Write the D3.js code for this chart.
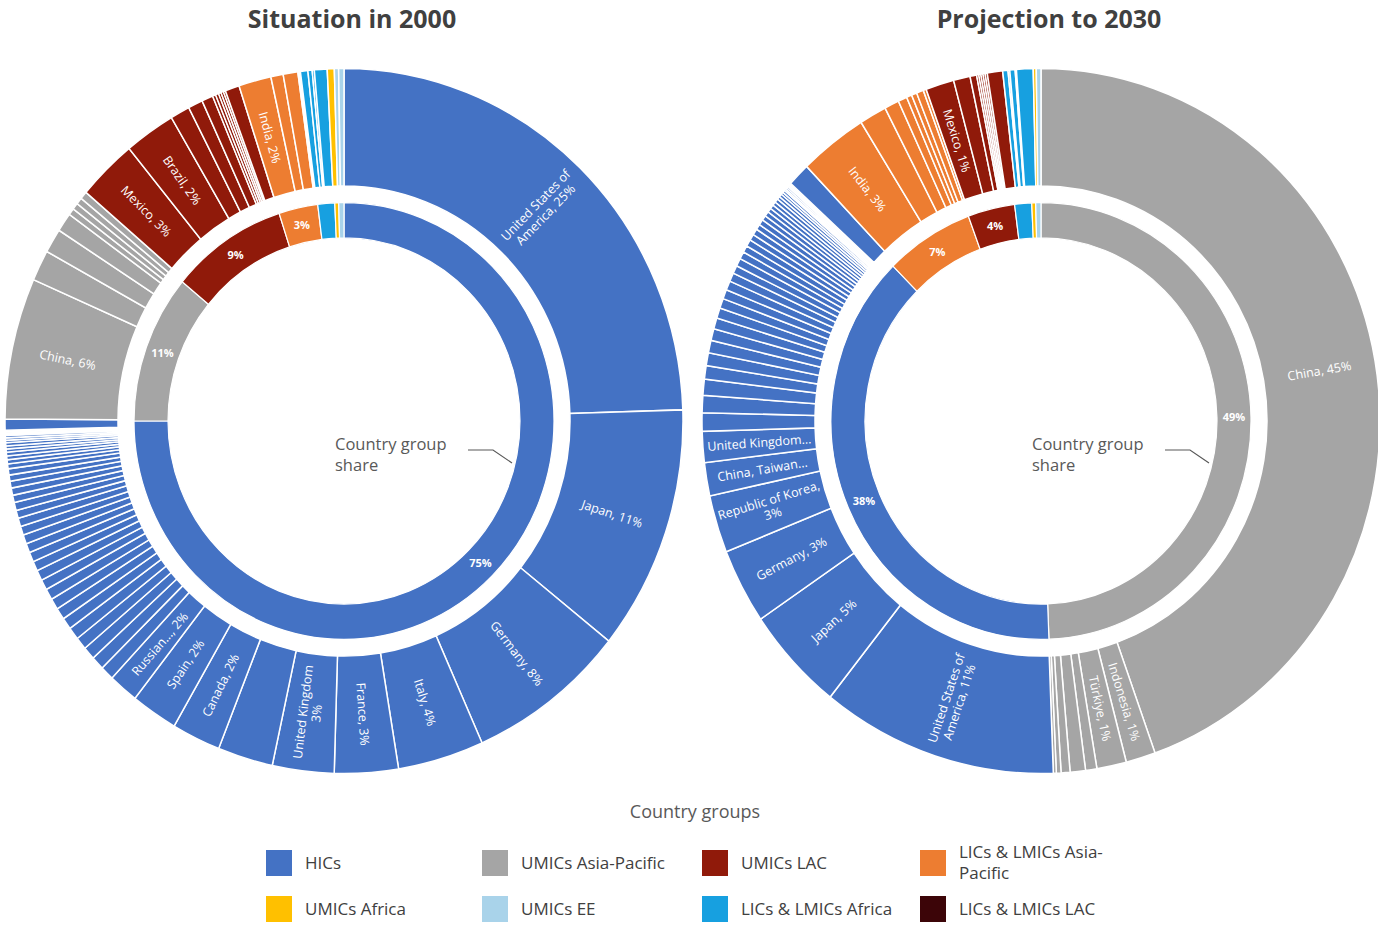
<!DOCTYPE html>
<html><head><meta charset="utf-8">
<script src="https://cdn.jsdelivr.net/npm/d3@7"></script>
<style>
body{margin:0;background:#fff;}
svg text{font-family:"Liberation Sans Narrow","Open Sans",sans-serif;}
</style></head><body>
<svg id="chart" width="1378" height="927"></svg>
<script>
// ---- Country groups (legend) ----
const groupNames = ["HICs","UMICs Asia-Pacific","UMICs LAC","LICs & LMICs Asia-Pacific","UMICs Africa","UMICs EE","LICs & LMICs Africa","LICs & LMICs LAC"];
const groupColors = ["#4472c4","#a5a5a5","#901a0a","#ed7d31","#ffc000","#a9d3ea","#17a0e0","#3c0508"];
const legendLabels = ["HICs","UMICs Asia-Pacific","UMICs LAC","LICs & LMICs Asia-\nPacific","UMICs Africa","UMICs EE","LICs & LMICs Africa","LICs & LMICs LAC"];

// ---- Situation in 2000 ----
const groupOrder2000 = ["HICs","UMICs Asia-Pacific","UMICs LAC","LICs & LMICs Asia-Pacific","LICs & LMICs Africa","UMICs Africa","UMICs EE"];
const groupShare2000 = [75, 11, 9, 3, 1.3, 0.3, 0.4];
const groupShareLabels2000 = ["75%","11%","9%","3%","","",""];
const hics2000 = [24.2, 11.1, 7.5, 4.05, 3.0, 2.9, 2.6, 2.3, 2.2, 1.4,
  0.64,0.61,0.58,0.56,0.56,0.53,0.53,0.5,0.5,0.47,0.47,0.44,0.44,0.42,0.42,0.39,0.39,0.36,0.36,0.33,0.33,0.31,0.28,0.28,
  0.22,0.19,0.17,0.17,0.14,0.14,0.14,0.11,0.11,0.11,0.08,0.06,0.06,0.03,0.5];
const hics2000Labels = ["United States of\nAmerica, 25%","Japan, 11%","Germany, 8%","Italy, 4%","France, 3%","United Kingdom\n3%","","Canada, 2%","Spain, 2%","Russian..., 2%"];
const umicsAP2000 = [6.4, 1.4, 1.1, 0.86, 0.3, 0.3, 0.3, 0.35];
const umicsAP2000Labels = ["China, 6%"];
const umicsLAC2000 = [2.8, 2.4, 0.92, 0.69, 0.53, 0.15, 0.15, 0.12, 0.12, 0.1, 0.67];
const umicsLAC2000Labels = ["Mexico, 3%","Brazil, 2%"];
const licsAP2000 = [1.53, 0.58, 0.69, 0.06, 0.06];
const licsAP2000Labels = ["India, 2%"];
const licsAfrica2000 = [0.35, 0.2, 0.1, 0.6];
const umicsAfrica2000 = [0.33];
const umicsEE2000 = [0.2, 0.25];

// ---- Projection to 2030 ----
const groupOrder2030 = ["UMICs Asia-Pacific","HICs","LICs & LMICs Asia-Pacific","UMICs LAC","LICs & LMICs Africa","UMICs Africa","UMICs EE"];
const groupShare2030 = [49.2, 38, 6.8, 3.6, 1.3, 0.3, 0.4];
const groupShareLabels2030 = ["49%","38%","7%","4%","","",""];
const umicsAP2030 = [43.9, 1.39, 1.39, 0.53, 0.72, 0.42, 0.22, 0.14];
const umicsAP2030Labels = ["China, 45%","Indonesia, 1%","Türkiye, 1%"];
const hics2030 = [11.1, 4.75, 3.4, 2.6, 1.5, 1.4,
  0.83,0.78,0.72,0.61,0.58,0.56,0.53,0.5,0.47,0.44,0.42,0.42,0.39,0.36,0.36,0.33,0.31,0.31,0.28,0.28,
  0.25,0.25,0.22,0.22,0.19,0.19,0.17,0.17,0.14,0.14,0.11,0.11,0.08,0.08,0.08,0.06,0.06,0.06,1.06];
const hics2030Labels = ["United States of\nAmerica, 11%","Japan, 5%","Germany, 3%","Republic of Korea,\n3%","China, Taiwan...","United Kingdom..."];
const licsAP2030 = [3.2, 1.28, 0.69, 0.42, 0.25, 0.25, 0.33, 0.14];
const licsAP2030Labels = ["India, 3%"];
const umicsLAC2030 = [1.33, 0.78, 0.31, 0.1, 0.1, 0.1, 0.1, 0.1, 0.72];
const umicsLAC2030Labels = ["Mexico, 1%"];
const licsAfrica2030 = [0.25, 0.08, 0.25, 0.06, 0.78];
const umicsAfrica2030 = [0.14];
const umicsEE2030 = [0.22];

const countries2000 = {
  "HICs": [hics2000, hics2000Labels],
  "UMICs Asia-Pacific": [umicsAP2000, umicsAP2000Labels],
  "UMICs LAC": [umicsLAC2000, umicsLAC2000Labels],
  "LICs & LMICs Asia-Pacific": [licsAP2000, licsAP2000Labels],
  "LICs & LMICs Africa": [licsAfrica2000, []],
  "UMICs Africa": [umicsAfrica2000, []],
  "UMICs EE": [umicsEE2000, []]
};
const countries2030 = {
  "UMICs Asia-Pacific": [umicsAP2030, umicsAP2030Labels],
  "HICs": [hics2030, hics2030Labels],
  "LICs & LMICs Asia-Pacific": [licsAP2030, licsAP2030Labels],
  "UMICs LAC": [umicsLAC2030, umicsLAC2030Labels],
  "LICs & LMICs Africa": [licsAfrica2030, []],
  "UMICs Africa": [umicsAfrica2030, []],
  "UMICs EE": [umicsEE2030, []]
};

const color = d3.scaleOrdinal().domain(groupNames).range(groupColors);
const svg = d3.select("#chart");
const ySquash = 1.04;
const R = {outerIn: 226, outerOut: 339, innerIn: 176, innerOut: 210};

function drawDonut(cx, cy, title, order, shares, shareLabels, countries) {
  const g = svg.append("g").attr("transform", `translate(${cx},${cy})`);
  const rings = g.append("g").attr("transform", `scale(1,${ySquash})`);
  const pie = d3.pie().sort(null).value(d => d.value);
  const innerData = order.map((grp, i) => ({group: grp, value: shares[i], label: shareLabels[i]}));
  const outerData = [];
  order.forEach(grp => {
    const [vals, labs] = countries[grp];
    vals.forEach((v, i) => outerData.push({group: grp, value: v, label: labs[i] || ""}));
  });
  const arcIn = d3.arc().innerRadius(R.innerIn).outerRadius(R.innerOut);
  const arcOut = d3.arc().innerRadius(R.outerIn).outerRadius(R.outerOut);
  const pin = pie(innerData), pout = pie(outerData);
  rings.selectAll("path.in").data(pin).join("path").attr("class","in")
    .attr("d", arcIn).attr("fill", d => color(d.data.group))
    .attr("stroke", "#fff").attr("stroke-width", 1.2);
  rings.selectAll("path.out").data(pout).join("path").attr("class","out")
    .attr("d", arcOut).attr("fill", d => color(d.data.group))
    .attr("stroke", "#fff").attr("stroke-width", 1.5);

  // outer labels (radial)
  const rl = (R.outerIn + R.outerOut) / 2;
  pout.filter(d => d.data.label).forEach(d => {
    const a = (d.startAngle + d.endAngle) / 2;
    const deg = a * 180 / Math.PI;
    const x = rl * Math.sin(a), y = -rl * Math.cos(a) * ySquash;
    const rot = deg < 180 ? deg - 90 : deg + 90;
    const lines = d.data.label.split("\n");
    const t = g.append("text").attr("transform", `translate(${x},${y}) rotate(${rot})`)
      .attr("text-anchor", "middle").attr("fill", "#fff").attr("font-size", 12.5);
    lines.forEach((ln, i) => {
      t.append("tspan").attr("x", 0)
        .attr("dy", i === 0 ? `${0.35 - (lines.length - 1) * 0.55}em` : "1.1em").text(ln);
    });
  });
  // inner labels
  const ri = (R.innerIn + R.innerOut) / 2;
  pin.filter(d => d.data.label).forEach(d => {
    const a = (d.startAngle + d.endAngle) / 2;
    g.append("text").attr("x", ri * Math.sin(a)).attr("y", -ri * Math.cos(a) * ySquash)
      .attr("dy", "0.35em").attr("text-anchor", "middle").attr("fill", "#fff")
      .attr("font-size", 11).attr("font-weight", "bold").text(d.data.label);
  });

  // title
  svg.append("text").attr("x", cx + 8).attr("y", 28).attr("text-anchor", "middle")
    .attr("font-size", 25).attr("font-weight", "bold").attr("fill", "#404040").text(title);

  // center annotation
  const ann = g.append("g").attr("fill", "#595959").attr("font-size", 16.5);
  ann.append("text").attr("x", -9).attr("y", 29).text("Country group");
  ann.append("text").attr("x", -9).attr("y", 50).text("share");
  g.append("path").attr("d", `M124,29 H149 L168,42`).attr("fill", "none")
    .attr("stroke", "#595959").attr("stroke-width", 1.2);
}

drawDonut(344, 421, "Situation in 2000", groupOrder2000, groupShare2000, groupShareLabels2000, countries2000);
drawDonut(1041, 421, "Projection to 2030", groupOrder2030, groupShare2030, groupShareLabels2030, countries2030);

// legend
svg.append("text").attr("x", 695).attr("y", 818).attr("text-anchor", "middle")
  .attr("fill", "#595959").attr("font-size", 18).text("Country groups");
const colX = [266, 482, 702, 920], rowY = [850, 896];
const leg = svg.append("g");
groupNames.forEach((grp, i) => {
  const x = colX[i % 4], y = rowY[Math.floor(i / 4)];
  leg.append("rect").attr("x", x).attr("y", y).attr("width", 26).attr("height", 26).attr("fill", color(grp));
  const lines = legendLabels[i].split("\n");
  const t = leg.append("text").attr("fill", "#404040").attr("font-size", 17);
  lines.forEach((ln, j) => {
    t.append("tspan").attr("x", x + 39)
      .attr("y", y + 13 + (lines.length > 1 ? (j - 0.5) * 21 : 0)).attr("dy", "0.35em").text(ln);
  });
});
</script>
</body></html>
